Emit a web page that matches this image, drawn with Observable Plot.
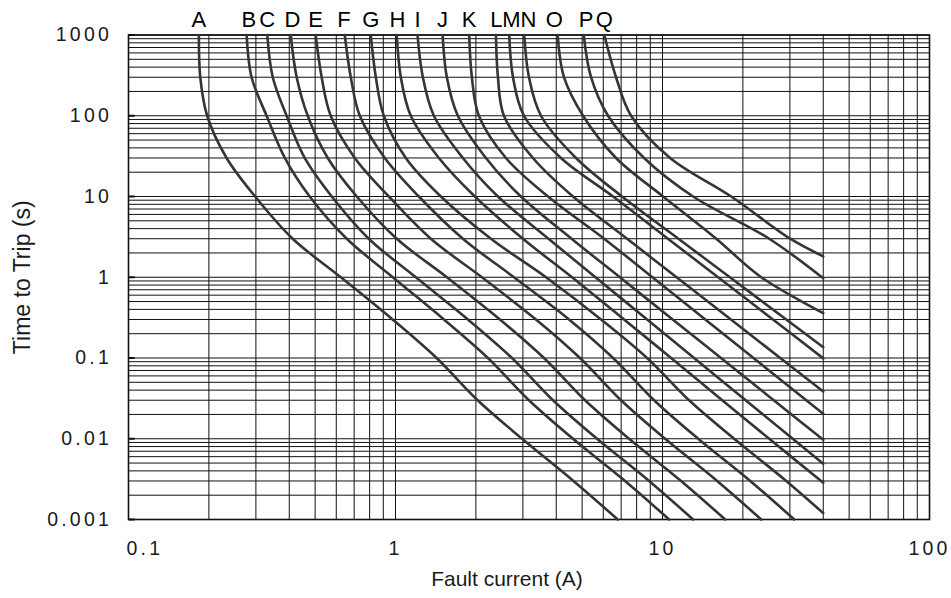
<!DOCTYPE html>
<html><head><meta charset="utf-8">
<script src="https://cdn.jsdelivr.net/npm/d3@7"></script>
<script src="https://cdn.jsdelivr.net/npm/@observablehq/plot@0.6"></script>
<style>
body{margin:0;background:#fff;}
#chart svg text{font-family:"Liberation Sans",Arial,sans-serif;}
g[aria-label="x-axis tick label"] text, g[aria-label="y-axis tick label"] text{letter-spacing:3.2px;}
</style></head><body><div id="chart"></div>
<script>
// Time levels (s) at which each curve's current was read
const times = [1000, 300, 100, 30, 10, 3, 1, 0.3, 0.1, 0.03, 0.01, 0.003, 0.001];
const curveNames = ["A","B","C","D","E","F","G","H","I","J","K","L","M","N","O","P","Q"];
// Current (A) of each curve at the time levels above (null = beyond 40 A)
const curveA = [0.1835, 0.1857, 0.197, 0.233, 0.298, 0.412, 0.624, 0.975, 1.425, 2.03, 2.98, 4.64, 6.80];
const curveB = [0.277, 0.289, 0.329, 0.385, 0.477, 0.657, 0.977, 1.518, 2.219, 3.161, 4.621, 7.24, 10.59];
const curveC = [0.331, 0.347, 0.391, 0.457, 0.577, 0.794, 1.192, 1.867, 2.730, 3.889, 5.686, 8.909, 13.02];
const curveD = [0.405, 0.4265, 0.469, 0.5575, 0.716, 1.011, 1.557, 2.461, 3.598, 5.127, 7.496, 11.74, 17.17];
const curveE = [0.5025, 0.529, 0.572, 0.704, 0.944, 1.356, 2.107, 3.358, 4.909, 6.994, 10.23, 16.02, 23.43];
const curveF = [0.6455, 0.680, 0.735, 0.912, 1.223, 1.788, 2.777, 4.465, 6.529, 9.30, 13.60, 21.31, 31.15];
const curveG = [0.808, 0.844, 0.904, 1.093, 1.479, 2.277, 3.661, 5.886, 8.756, 12.58, 18.55, 29.07, null];
const curveH = [1.011, 1.047, 1.141, 1.454, 1.983, 3.001, 4.581, 7.178, 10.77, 16.73, 25.10, null, null];
const curveI = [1.209, 1.266, 1.392, 1.788, 2.419, 3.741, 5.608, 8.756, 13.13, 20.48, 30.75, null, null];
const curveJ = [1.501, 1.557, 1.712, 2.181, 2.950, 4.565, 6.922, 10.92, 16.56, 26.10, null, null, null];
const curveK = [1.888, 1.932, 2.052, 2.592, 3.725, 6.045, 9.165, 14.46, 21.91, 34.55, null, null, null];
const curveL = [2.378, 2.419, 2.547, 3.272, 4.621, 7.371, 11.29, 18.04, 27.60, null, null, null, null];
const curveM = [2.667, 2.754, 3.028, 4.167, 6.529, 10.48, 16.15, 25.92, null, null, null, null, null];
const curveN = [3.036, 3.161, 3.506, 4.743, 7.055, 11.47, 17.88, 29.07, null, null, null, null, null];
const curveO = [4.050, 4.276, 5.039, 6.699, 10.05, 15.89, 23.43, null, null, null, null, null, null];
const curveP = [5.069, 5.399, 6.252, 8.531, 13.02, 25.10, null, null, null, null, null, null, null];
const curveQ = [6.056, 6.699, 7.626, 10.68, 18.08, 30.09, null, null, null, null, null, null, null];
// Curves that run to the 40 A edge: the current there and the time reached
const endCurrent = 40;
const endTimes = [null, null, null, null, null, null, 0.0012, 0.00285, 0.0049, 0.0097, 0.0204, 0.0385, 0.099, 0.136, 0.359, 0.97, 1.81];
// Where each curve letter sits along the current axis
const labelCurrents = [0.1835, 0.2825, 0.331, 0.411, 0.5025, 0.6416, 0.808, 1.017, 1.209, 1.501, 1.888, 2.388, 2.718, 3.148, 3.933, 5.171, 6.056];
// Axes
const xTicks = [0.1, 1, 10, 100];
const yTicks = [0.001, 0.01, 0.1, 1, 10, 100, 1000];
const gridSteps = [1, 2, 3, 4, 5, 6, 7, 8, 9];
const xLabel = "Fault current (A)";
const yLabel = "Time to Trip (s)";

const curveCurrents = [curveA, curveB, curveC, curveD, curveE, curveF, curveG, curveH, curveI, curveJ, curveK, curveL, curveM, curveN, curveO, curveP, curveQ];
const rows = curveNames.flatMap((name, i) => {
  const pts = times.map((t, j) => ({name, I: curveCurrents[i][j], t})).filter(p => p.I != null);
  if (endTimes[i] != null) pts.push({name, I: endCurrent, t: endTimes[i]});
  return pts;
});
const labels = curveNames.map((name, i) => ({name, I: labelCurrents[i]}));
const gridX = xTicks.slice(0, -1).flatMap(d => gridSteps.map(s => d * s)).concat([xTicks[xTicks.length - 1]]);
const gridY = yTicks.slice(0, -1).flatMap(d => gridSteps.map(s => d * s)).concat([yTicks[yTicks.length - 1]]);
const fmt = d3.format("~g");

const chart = Plot.plot({
  width: 951, height: 598,
  marginLeft: 128, marginRight: 22, marginTop: 34.5, marginBottom: 79,
  style: {fontFamily: "Liberation Sans, Arial, sans-serif", background: "#fff", color: "#1a1a1a"},
  x: {type: "log", domain: [0.1, 100]},
  y: {type: "log", domain: [0.001, 1000]},
  marks: [
    Plot.ruleX(gridX, {stroke: "#111", strokeWidth: 1}),
    Plot.ruleY(gridY, {stroke: "#111", strokeWidth: 1}),
    Plot.link(yTicks, {x1: () => xTicks[0], x2: () => xTicks[0] * 1.055, y1: d => d, y2: d => d, stroke: "#111", strokeWidth: 2}),
    Plot.frame({stroke: "#111", strokeWidth: 1.6}),
    Plot.line(rows, {x: "I", y: "t", z: "name", stroke: "#353535", strokeWidth: 2.6, curve: "catmull-rom"}),
    Plot.text(labels, {x: "I", frameAnchor: "top", lineAnchor: "middle", text: "name", dy: -15, fontSize: 22, fill: "#000"}),
    Plot.axisX(xTicks.slice(0, 1), {tickFormat: fmt, tickSize: 0, tickPadding: 22, fontSize: 19.5, textAnchor: "start", dx: -2, label: null}),
    Plot.axisX(xTicks.slice(1), {tickFormat: fmt, tickSize: 0, tickPadding: 22, fontSize: 19.5, label: null}),
    Plot.axisY({ticks: yTicks, tickFormat: fmt, tickSize: 0, tickPadding: 16.5, fontSize: 19.5, label: null}),
    Plot.text([xLabel], {frameAnchor: "bottom", lineAnchor: "middle", textAnchor: "middle", dx: -22, dy: 60, fontSize: 21, fill: "#1a1a1a"}),
    Plot.text([yLabel], {frameAnchor: "left", lineAnchor: "middle", textAnchor: "middle", dx: -106, rotate: -90, fontSize: 23, fill: "#1a1a1a"})
  ]
});
document.getElementById("chart").appendChild(chart);
</script></body></html>
